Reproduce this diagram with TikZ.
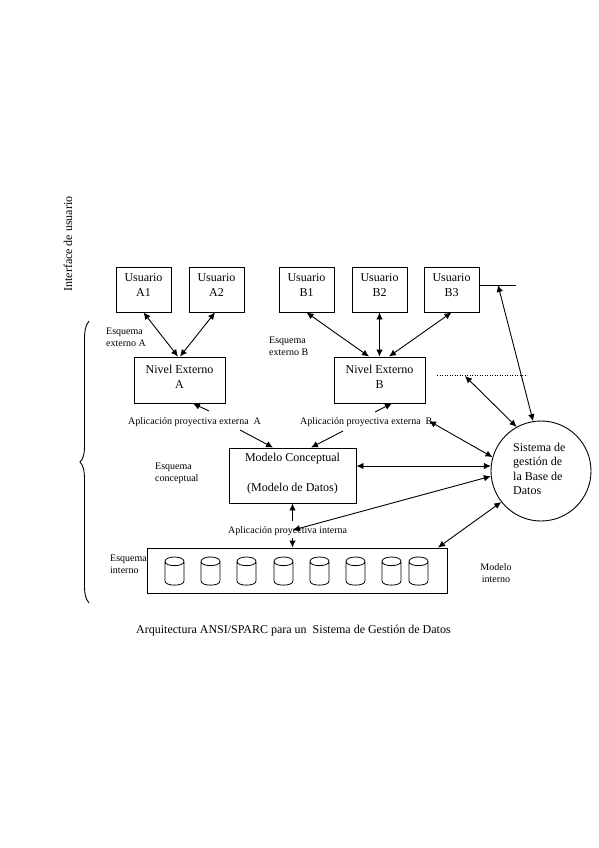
\documentclass[tikz,border=0pt]{standalone}
\usepackage{fontspec}
\setmainfont{Liberation Serif}
\usetikzlibrary{arrows.meta}
\tikzset{
  box/.style={draw,line width=0.9pt,inner sep=0pt,minimum width=55pt,minimum height=45pt},
  main/.style={inner sep=0pt,align=center,font=\fontsize{12}{15}\selectfont},
  small/.style={inner sep=0pt,align=left,anchor=west,font=\fontsize{10}{12}\selectfont},
  conn/.style={line width=0.9pt,-{Latex[length=7pt,width=6.5pt]}},
  dbl/.style={line width=0.9pt,{Latex[length=7pt,width=6.5pt]}-{Latex[length=7pt,width=6.5pt]}},
  dbcyl/.pic={
    \draw[line width=0.8pt] (-9.5,-9.5) -- (-9.5,10) .. controls (-9.5,15.5) and (9.5,15.5) .. (9.5,10) -- (9.5,-9.5)
      .. controls (9.5,-15.5) and (-9.5,-15.5) .. (-9.5,-9.5) .. controls (-9.5,-4) and (9.5,-4) .. (9.5,-9.5);
  }
}
\begin{document}
\begin{tikzpicture}[x=1pt,y=-1pt]
\useasboundingbox (0,0) rectangle (599,848);
% boxes
\node[box] (ua1) at (143.5,289.5) {};
\node[box] (ua2) at (216.5,289.5) {};
\node[box] (ub1) at (306.5,289.5) {};
\node[box] (ub2) at (379.5,289.5) {};
\node[box] (ub3) at (451.5,289.5) {};
\node[box,minimum width=91pt,minimum height=46pt] (nea) at (179.5,380) {};
\node[box,minimum width=91pt,minimum height=46pt] (neb) at (379.5,380) {};
\node[box,minimum width=127pt,minimum height=55pt] (mc) at (292.5,475.5) {};
\node[box,minimum width=300pt,minimum height=45pt] (int) at (297,570.5) {};
\node[draw,circle,line width=0.9pt,minimum size=100pt,inner sep=0pt] (sg) at (541,471) {};
% box texts
\node[main] (tua1) at (143.5,285.5) {Usuario\\A1};
\node[main] (tua2) at (216.5,285.5) {Usuario\\A2};
\node[main] (tub1) at (306.5,285.5) {Usuario\\B1};
\node[main] (tub2) at (379.5,285.5) {Usuario\\B2};
\node[main] (tub3) at (451.5,285.5) {Usuario\\B3};
\node[main] (tnea) at (179.5,376.5) {Nivel Externo\\A};
\node[main] (tneb) at (379.5,376.5) {Nivel Externo\\B};
\node[main,font=\fontsize{12}{30}\selectfont] (tmc) at (292.5,474) {Modelo Conceptual\\(Modelo de Datos)};
\node[main,align=left,anchor=west,font=\fontsize{12}{14.5}\selectfont] (tsg) at (513,469) {Sistema de\\gestión de\\la Base de\\Datos};
% labels
\node[main,rotate=90] (iface) at (68,244) {Interface de usuario};
\node[small] (eea) at (106,337) {Esquema\\externo A};
\node[small] (eeb) at (269,346) {Esquema\\externo B};
\node[small] (apa) at (128,422) {Aplicación proyectiva externa\ \ A};
\node[small] (apb) at (300,422) {Aplicación proyectiva externa\ \ B};
\node[small] (ec) at (155,473) {Esquema\\conceptual};
\node[small] (api) at (228,531) {Aplicación proyectiva interna};
\node[small] (ei) at (110,564) {Esquema\\interno};
\node[small,align=center,anchor=center] (mi) at (496,573) {Modelo\\interno};
\node[main,anchor=west] (cap) at (136,631) {Arquitectura ANSI/SPARC para un\ \ Sistema de Gestión de Datos};
% cylinders
\foreach \cx in {174.5,210.5,246.5,283.5,319.5,355.5,391.5,418.5}
  \pic at (\cx,571) {dbcyl};
% brace
\draw[line width=0.9pt] (89,321) .. controls (85,326) and (84.5,332) .. (84.5,340)
  -- (84.5,445) .. controls (84.5,455) and (83,459) .. (80,462)
  .. controls (83,465) and (84.5,470) .. (84.5,480)
  -- (84.5,585) .. controls (84.5,593) and (85,598) .. (89,603);
% free ends
\coordinate (lb3) at (516,285);
\coordinate (lb3a) at (498,285);
\coordinate (dl) at (437,375.5);
\coordinate (dr) at (527,375.5);
\coordinate (dla) at (465,376);
\coordinate (ta) at (209,411);
\coordinate (tb) at (375,412);
\coordinate (ta2) at (240,430);
\coordinate (tb2) at (343,431);
\coordinate (bend) at (429,421);
\coordinate (iend) at (293,530);
\coordinate (t1) at (292.5,521);
\coordinate (t2) at (292.5,538);
\coordinate (mcr) at ([yshift=9.5pt]mc.east);
% connectors
\draw[dbl] (ua1.south) -- ([xshift=-1.5pt]nea.north);
\draw[dbl] ([xshift=-1.5pt]ua2.south) -- ([xshift=0.5pt]nea.north);
\draw[dbl] (ub1.south) -- ([xshift=-10.5pt]neb.north);
\draw[dbl] (ub2.south) -- (neb.north);
\draw[dbl] (ub3.south) -- ([xshift=9.5pt]neb.north);
\draw[line width=0.9pt] ([yshift=4.5pt]ub3.east) -- (lb3);
\draw[dbl] (lb3a) -- (sg.99);
\draw[line width=1.3pt,dash pattern=on 1.3pt off 1.2pt] (dl) -- (dr);
\draw[dbl] (dla) -- (sg.119);
\draw[conn] (ta) -- ([xshift=13.5pt]nea.south);
\draw[conn] (tb) -- ([xshift=12.5pt]neb.south);
\draw[conn] (ta2) -- ([xshift=-19.5pt]mc.north);
\draw[conn] (tb2) -- ([xshift=18.5pt]mc.north);
\draw[dbl] (bend) -- (sg.164);
\draw[dbl] (mcr) -- (sg.174 |- mcr);
\draw[dbl] (iend) -- (sg.186);
\draw[conn] (t1) -- (mc.south);
\draw[conn] (t2) -- (t2 |- int.north);
\draw[dbl] ([xshift=141pt]int.north) -- (sg.218);
\end{tikzpicture}
\end{document}
